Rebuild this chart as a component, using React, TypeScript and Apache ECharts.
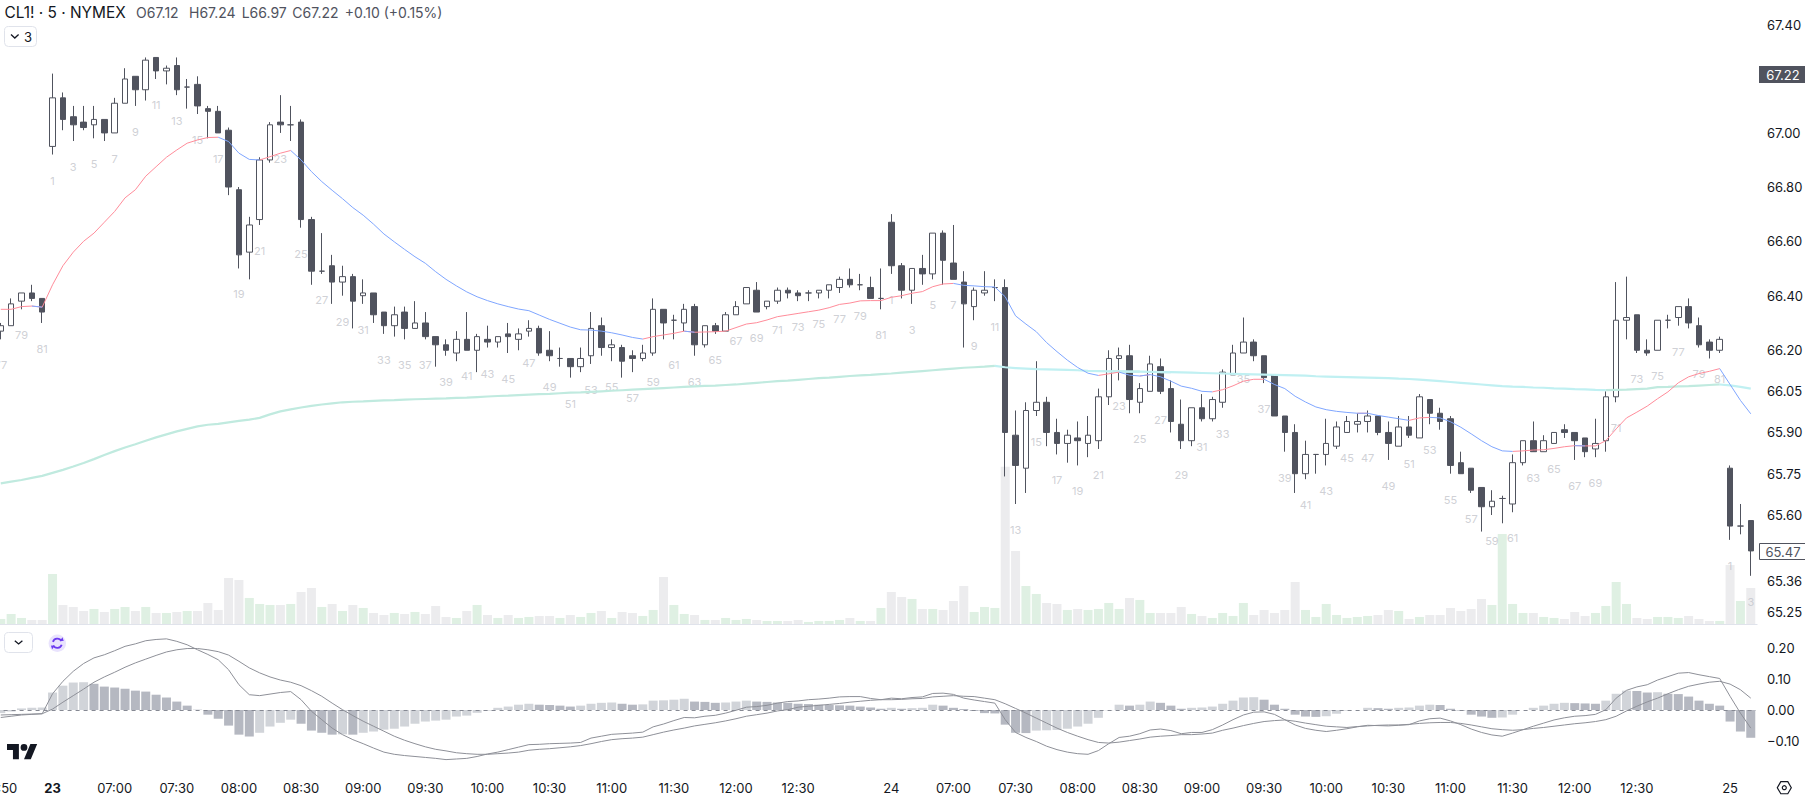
import React, { useEffect, useRef } from "react";
import * as echarts from "echarts";

const FONT = "Inter, 'Noto Sans', sans-serif";
const INK = "#131722";
const CANDLE = "#50535E";

// Session layout: bars 77-81 of the 22nd, 81 bars on the 23rd and 24th, 3 bars on the 25th.
function sessionBars(day: string, from: number, to: number) {
  const out: string[] = [];
  for (let k = from; k <= to; k++) {
    const mins = 6 * 60 + 30 + (k - 1) * 5;
    const t = `${String(Math.floor(mins / 60)).padStart(2, "0")}:${String(mins % 60).padStart(2, "0")}`;
    out.push(k === 1 ? day : t);
  }
  return out;
}
const categories = [
  ...sessionBars("22", 77, 81),
  ...sessionBars("23", 1, 81),
  ...sessionBars("24", 1, 81),
  ...sessionBars("25", 1, 3),
];
const barNumbers = [
  77, 78, 79, 80, 81,
  ...Array.from({ length: 81 }, (_, k) => k + 1),
  ...Array.from({ length: 81 }, (_, k) => k + 1),
  1, 2, 3,
];
const xTickIndices = [0, 5, 11, 17, 23, 29, 35, 41, 47, 53, 59, 65, 71, 77, 86, 92, 98, 104, 110, 116, 122, 128, 134, 140, 146, 152, 158, 167];

const priceTicks = [67.4, 67.0, 66.8, 66.6, 66.4, 66.2, 66.05, 65.9, 65.75, 65.6, 65.36, 65.25];
const macdTicks = [0.2, 0.1, 0, -0.1];

const opens = [
  66.27,66.29,66.38,66.41,66.39,66.95,67.13,67.06,67.04,67.03,
  67.05,67.00,67.11,67.21,67.16,67.28,67.23,67.25,67.17,67.18,
  67.09,67.08,67.01,66.79,66.56,66.68,66.90,67.04,67.03,67.04,
  66.68,66.49,66.51,66.45,66.47,66.40,66.41,66.34,66.29,66.34,
  66.28,66.30,66.25,66.22,66.19,66.24,66.20,66.24,66.23,66.26,
  66.24,66.27,66.28,66.20,66.17,66.17,66.14,66.18,66.29,66.21,
  66.21,66.18,66.17,66.19,66.35,66.31,66.30,66.36,66.22,66.29,
  66.27,66.33,66.37,66.42,66.36,66.38,66.42,66.41,66.41,66.41,
  66.42,66.43,66.46,66.44,66.43,66.39,66.67,66.51,66.42,66.50,
  66.48,66.63,66.52,66.45,66.36,66.41,66.43,66.43,65.89,65.77,
  65.98,66.01,65.90,65.86,65.88,65.86,65.87,66.03,66.17,66.18,
  66.01,66.05,66.14,66.06,65.93,65.87,65.99,65.95,66.01,66.11,
  66.19,66.23,66.18,66.11,65.96,65.90,65.75,65.82,65.82,65.85,
  65.90,65.93,65.94,65.96,65.90,65.85,65.92,65.88,66.02,65.97,
  65.95,65.79,65.77,65.70,65.63,65.66,65.64,65.79,65.87,65.83,
  65.86,65.91,65.90,65.88,65.84,65.87,66.03,66.31,66.33,66.20,
  66.20,66.31,66.32,66.36,66.29,66.23,66.20,65.77,65.56,65.58,
];
const closes = [
  66.29,66.37,66.41,66.39,66.34,67.13,67.05,67.03,67.02,67.05,
  67.00,67.11,67.20,67.16,67.27,67.23,67.24,67.16,67.17,67.10,
  67.08,67.00,66.80,66.55,66.66,66.90,67.03,67.03,67.03,66.68,
  66.49,66.49,66.45,66.47,66.38,66.41,66.33,66.29,66.33,66.28,
  66.30,66.25,66.22,66.20,66.24,66.20,66.25,66.23,66.25,66.25,
  66.26,66.28,66.19,66.18,66.17,66.14,66.17,66.28,66.21,66.22,
  66.16,66.17,66.19,66.35,66.30,66.31,66.35,66.22,66.29,66.27,
  66.33,66.36,66.43,66.34,66.38,66.42,66.41,66.40,66.41,66.42,
  66.44,66.46,66.44,66.44,66.39,66.39,66.51,66.42,66.50,66.48,
  66.63,66.53,66.46,66.37,66.42,66.42,66.43,65.90,65.78,65.98,
  66.01,65.90,65.86,65.89,65.87,65.89,66.03,66.17,66.18,66.02,
  66.06,66.15,66.05,65.94,65.87,65.99,65.95,66.02,66.12,66.19,
  66.23,66.18,66.10,65.96,65.90,65.75,65.82,65.82,65.86,65.92,
  65.94,65.94,65.96,65.90,65.86,65.92,65.89,66.03,65.97,65.94,
  65.78,65.75,65.69,65.63,65.65,65.66,65.79,65.87,65.83,65.87,
  65.90,65.90,65.87,65.83,65.86,66.03,66.31,66.32,66.20,66.19,
  66.31,66.31,66.36,66.30,66.22,66.20,66.24,65.56,65.56,65.47,
];
const lows = [
  66.24,66.29,66.35,66.38,66.30,66.92,67.01,66.97,67.01,66.98,
  66.97,67.00,67.11,67.10,67.12,67.20,67.18,67.14,67.09,67.07,
  66.98,67.00,66.77,66.50,66.46,66.66,66.89,67.00,66.97,66.65,
  66.44,66.48,66.37,66.40,66.28,66.37,66.30,66.26,66.25,66.24,
  66.28,66.24,66.14,66.18,66.16,66.20,66.12,66.21,66.21,66.19,
  66.20,66.25,66.18,66.16,66.14,66.10,66.12,66.15,66.18,66.16,
  66.10,66.12,66.16,66.18,66.24,66.24,66.27,66.18,66.21,66.26,
  66.27,66.33,66.37,66.34,66.35,66.37,66.39,66.38,66.38,66.39,
  66.39,66.41,66.43,66.42,66.39,66.35,66.48,66.39,66.37,66.44,
  66.46,66.44,66.46,66.21,66.31,66.40,66.38,65.74,65.64,65.68,
  65.96,65.85,65.82,65.79,65.78,65.81,65.84,66.00,66.09,65.97,
  65.97,66.05,66.04,65.90,65.84,65.85,65.94,65.94,65.99,66.11,
  66.19,66.16,66.08,65.96,65.83,65.68,65.73,65.75,65.78,65.84,
  65.90,65.90,65.90,65.89,65.80,65.85,65.88,65.88,65.93,65.91,
  65.75,65.75,65.68,65.54,65.60,65.57,65.61,65.78,65.83,65.83,
  65.86,65.88,65.80,65.81,65.81,65.83,66.01,66.24,66.19,66.18,
  66.20,66.28,66.29,66.28,66.21,66.17,66.19,65.51,65.53,65.38,
];
const highs = [
  66.30,66.39,66.41,66.44,66.39,67.22,67.15,67.10,67.10,67.10,
  67.05,67.13,67.24,67.21,67.28,67.28,67.25,67.28,67.20,67.21,
  67.10,67.10,67.02,66.80,66.69,66.91,67.04,67.14,67.10,67.05,
  66.69,66.63,66.55,66.51,66.48,66.46,66.41,66.34,66.36,66.36,
  66.38,66.34,66.25,66.24,66.27,66.34,66.26,66.29,66.25,66.30,
  66.28,66.31,66.29,66.27,66.21,66.17,66.21,66.34,66.32,66.24,
  66.22,66.20,66.22,66.39,66.35,66.33,66.37,66.37,66.29,66.30,
  66.34,66.38,66.43,66.45,66.38,66.43,66.43,66.42,66.42,66.42,
  66.44,66.47,66.50,66.48,66.47,66.50,66.70,66.52,66.50,66.55,
  66.63,66.64,66.66,66.49,66.43,66.49,66.46,66.46,65.98,66.01,
  66.16,66.03,65.95,65.91,65.94,65.96,66.06,66.20,66.21,66.22,
  66.08,66.18,66.17,66.09,66.02,65.99,66.04,66.03,66.13,66.22,
  66.32,66.24,66.18,66.11,65.96,65.93,65.87,65.82,65.95,65.94,
  65.96,65.97,65.98,65.96,65.94,65.96,65.96,66.04,66.02,65.99,
  65.96,65.83,65.77,65.70,65.69,65.67,65.82,65.87,65.94,65.89,
  65.90,65.93,65.90,65.88,65.95,66.05,66.45,66.47,66.33,66.24,
  66.31,66.33,66.36,66.39,66.32,66.24,66.25,65.78,65.64,65.58,
];
const volumes = [
  16,31,19,13,13,151,58,52,40,46,
  37,46,52,40,52,34,34,37,40,40,
  64,43,139,133,79,61,58,58,61,97,
  109,52,61,40,58,49,34,28,34,31,
  37,31,55,22,19,40,58,28,19,28,
  19,22,25,25,19,28,22,34,40,19,
  37,34,25,43,142,58,31,28,13,13,
  19,13,16,13,10,10,10,13,7,10,
  10,13,19,10,10,49,97,82,76,46,
  46,43,70,115,37,52,49,473,220,115,
  91,64,61,43,46,43,46,64,46,79,
  73,34,34,34,52,31,25,19,34,25,
  64,28,43,34,43,127,43,22,61,28,
  19,22,25,28,43,40,16,22,28,28,
  49,40,46,76,58,271,61,34,34,22,
  19,16,37,25,34,55,127,61,19,16,
  22,22,19,25,16,10,10,178,70,109,
];
const fastEma = [
  66.35,66.35,66.36,66.362,66.358,66.44,66.51,66.56,66.60,66.63,
  66.67,66.71,66.76,66.79,66.84,66.875,66.91,66.937,66.962,66.974,
  66.983,66.984,66.968,66.925,66.902,66.90,66.912,66.925,66.935,66.90,
  66.857,66.82,66.788,66.757,66.724,66.696,66.663,66.627,66.598,66.57,
  66.543,66.519,66.488,66.46,66.436,66.414,66.396,66.382,66.37,66.36,
  66.351,66.345,66.329,66.313,66.299,66.285,66.275,66.274,66.27,66.264,
  66.256,66.247,66.241,66.25,66.256,66.262,66.27,66.266,66.267,66.268,
  66.27,66.283,66.296,66.301,66.311,66.323,66.329,66.335,66.341,66.347,
  66.356,66.368,66.373,66.381,66.382,66.382,66.394,66.40,66.409,66.415,
  66.433,66.443,66.445,66.438,66.436,66.433,66.432,66.396,66.326,66.296,
  66.268,66.228,66.195,66.164,66.137,66.116,66.108,66.114,66.12,66.109,
  66.106,66.111,66.103,66.087,66.069,66.061,66.05,66.048,66.056,66.07,
  66.087,66.094,66.094,66.075,66.06,66.032,66.011,65.993,65.983,65.977,
  65.973,65.970,65.970,65.962,65.956,65.950,65.944,65.953,65.955,65.953,
  65.939,65.919,65.895,65.870,65.848,65.833,65.831,65.833,65.836,65.837,
  65.842,65.848,65.852,65.851,65.851,65.870,65.913,65.953,65.974,65.996,
  66.023,66.048,66.081,66.103,66.115,66.123,66.133,66.075,66.017,65.968,
];
const slowEma = [
  65.715,65.721,65.727,65.735,65.742,65.753,65.764,65.776,65.789,65.803,
  65.818,65.832,65.845,65.857,65.870,65.882,65.893,65.904,65.913,65.922,
  65.928,65.931,65.937,65.942,65.947,65.953,65.966,65.977,65.984,65.991,
  65.997,66.002,66.006,66.010,66.012,66.013,66.015,66.017,66.018,66.020,
  66.021,66.022,66.023,66.024,66.026,66.027,66.029,66.031,66.033,66.034,
  66.036,66.038,66.040,66.041,66.043,66.045,66.046,66.048,66.050,66.052,
  66.054,66.056,66.058,66.060,66.062,66.064,66.066,66.068,66.070,66.071,
  66.073,66.075,66.078,66.081,66.084,66.087,66.089,66.092,66.095,66.098,
  66.100,66.103,66.106,66.108,66.110,66.113,66.115,66.118,66.121,66.124,
  66.127,66.130,66.133,66.136,66.138,66.140,66.143,66.138,66.135,66.133,
  66.131,66.130,66.129,66.128,66.127,66.125,66.124,66.123,66.123,66.122,
  66.122,66.121,66.120,66.120,66.119,66.118,66.117,66.116,66.115,66.114,
  66.113,66.112,66.111,66.110,66.109,66.108,66.107,66.105,66.104,66.103,
  66.102,66.101,66.100,66.099,66.098,66.096,66.095,66.093,66.090,66.087,
  66.084,66.081,66.078,66.075,66.072,66.069,66.067,66.066,66.064,66.063,
  66.061,66.060,66.058,66.057,66.055,66.054,66.055,66.056,66.058,66.060,
  66.065,66.066,66.068,66.069,66.071,66.073,66.075,66.072,66.066,66.060,
];
const macdHist = [
  -.010,-.005,.005,.007,.008,.056,.078,.088,.089,.084,
  .075,.072,.068,.062,.059,.049,.040,.027,.014,.001,
  -.015,-.028,-.050,-.079,-.085,-.073,-.053,-.041,-.031,-.044,
  -.066,-.073,-.079,-.078,-.079,-.073,-.069,-.063,-.060,-.053,
  -.044,-.037,-.034,-.031,-.021,-.018,-.009,-.002,.007,.011,
  .017,.020,.017,.016,.014,.011,.014,.020,.023,.024,
  .020,.017,.018,.030,.031,.033,.036,.027,.026,.023,
  .024,.027,.030,.027,.026,.024,.023,.020,.019,.017,
  .016,.015,.014,.011,.008,.004,.007,.004,.006,.007,
  .017,.014,.007,.003,-.003,-.010,-.011,-.047,-.073,-.074,
  -.066,-.065,-.064,-.060,-.053,-.044,-.025,-.001,.017,.014,
  .017,.027,.023,.014,.004,.007,.008,.011,.020,.030,
  .040,.041,.033,.017,.004,-.015,-.021,-.022,-.020,-.012,
  -.002,.000,.007,.006,.004,.007,.008,.014,.017,.016,
  .004,-.002,-.015,-.021,-.025,-.024,-.015,.000,.007,.014,
  .020,.023,.022,.021,.020,.030,.052,.062,.061,.056,
  .057,.052,.051,.043,.030,.020,.014,-.037,-.069,-.089,
];
const macdLine = [
  -.024,-.020,-.016,-.014,-.012,.052,.092,.124,.149,.167,
  .177,.190,.204,.212,.222,.226,.228,.220,.209,.193,
  .178,.161,.129,.081,.049,.046,.051,.056,.059,.033,
  -.004,-.031,-.058,-.079,-.095,-.108,-.122,-.135,-.142,-.146,
  -.149,-.152,-.155,-.159,-.157,-.155,-.149,-.141,-.135,-.127,
  -.119,-.111,-.110,-.108,-.107,-.106,-.104,-.090,-.084,-.078,
  -.076,-.074,-.071,-.054,-.045,-.034,-.024,-.025,-.020,-.017,
  -.010,-.001,.009,.011,.015,.022,.027,.029,.033,.035,
  .038,.042,.043,.043,.037,.033,.038,.036,.040,.042,
  .053,.054,.050,.038,.032,.027,.022,-.031,-.072,-.088,
  -.101,-.116,-.127,-.135,-.140,-.142,-.130,-.108,-.088,-.084,
  -.076,-.064,-.061,-.066,-.076,-.072,-.072,-.063,-.048,-.031,
  -.016,-.007,-.006,-.014,-.031,-.048,-.059,-.065,-.069,-.065,
  -.060,-.054,-.049,-.050,-.051,-.049,-.047,-.035,-.028,-.026,
  -.035,-.047,-.061,-.072,-.080,-.084,-.074,-.063,-.052,-.042,
  -.032,-.025,-.020,-.018,-.014,.001,.038,.063,.074,.081,
  .096,.107,.118,.120,.113,.107,.101,.044,-.010,-.058,
];
const macdSignal = [
  -.016,-.015,-.014,-.013,-.012,.003,.025,.046,.067,.089,
  .106,.121,.137,.151,.163,.175,.186,.193,.197,.197,
  .193,.187,.176,.156,.135,.119,.106,.096,.089,.078,
  .062,.044,.022,.001,-.018,-.036,-.052,-.068,-.084,-.097,
  -.108,-.118,-.126,-.131,-.137,-.140,-.142,-.142,-.140,-.138,
  -.135,-.129,-.126,-.124,-.121,-.118,-.114,-.108,-.101,-.095,
  -.092,-.090,-.087,-.079,-.071,-.064,-.058,-.051,-.046,-.041,
  -.035,-.028,-.020,-.015,-.010,-.003,.001,.009,.012,.015,
  .018,.021,.025,.028,.031,.033,.033,.034,.036,.037,
  .042,.044,.046,.044,.043,.038,.033,.020,.005,-.010,
  -.026,-.042,-.058,-.072,-.084,-.095,-.104,-.106,-.103,-.098,
  -.093,-.087,-.084,-.082,-.079,-.079,-.077,-.074,-.065,-.058,
  -.050,-.043,-.037,-.034,-.032,-.036,-.042,-.047,-.052,-.054,
  -.056,-.053,-.051,-.049,-.048,-.048,-.046,-.043,-.041,-.040,
  -.040,-.043,-.048,-.054,-.060,-.063,-.065,-.063,-.059,-.056,
  -.052,-.048,-.044,-.041,-.037,-.031,-.020,-.003,.012,.026,
  .038,.052,.065,.076,.083,.089,.092,.083,.065,.038,
];

const headerTitle = "CL1! · 5 · NYMEX";
const headerValues = ["O67.12", "H67.24", "L66.97", "C67.22", "+0.10 (+0.15%)"];
const headerValueLefts = [136, 189, 241.7, 292.3, 344.7];

// Split a line into its rising and falling runs, as the two-colour moving average draws them.
function slopeRuns(values: number[]) {
  const rising: (number | null)[] = values.map(() => null);
  const falling: (number | null)[] = values.map(() => null);
  for (let i = 0; i + 1 < values.length; i++) {
    const run = values[i + 1] >= values[i] ? rising : falling;
    run[i] = values[i];
    run[i + 1] = values[i + 1];
  }
  return { rising, falling };
}

echarts.graphic.registerShape(
  "tvlogo",
  echarts.graphic.extendPath("M14 22H7V11H0V4h14v18zM28 22h-8l7.5-18h8L28 22zM20 12a4 4 0 1 0 0-8 4 4 0 0 0 0 8z", {})
);

function uiGraphics() {
  const text = (x: number, y: number, t: string, size: number, fill: string, align = "left", weight = 400) => ({
    type: "text", x, y, z: 100,
    style: { text: t, fontFamily: FONT, fontSize: size, fontWeight: weight, fill, align, verticalAlign: "middle" },
  });
  const gx = 1784.3, gy = 787.7, gr = 7;
  const hex = [0, 60, 120, 180, 240, 300].map((a) => [gx + gr * Math.cos((a * Math.PI) / 180), gy + gr * Math.sin((a * Math.PI) / 180)]);
  const cx = 57.3, cy = 643.3;
  return [
    { type: "line", z: 50, shape: { x1: 0, y1: 624.5, x2: 1757.5, y2: 624.5 }, style: { stroke: "#E0E3EB", lineWidth: 1 } },
    text(4.5, 12, headerTitle, 15.4, INK),
    ...headerValues.map((v, i) => text(headerValueLefts[i], 12, v, 14, CANDLE)),
    { type: "rect", z: 100, shape: { x: 4.5, y: 26.5, width: 32, height: 20, r: 4 }, style: { fill: "#fff", stroke: "#E0E3EB", lineWidth: 1 } },
    { type: "polyline", z: 101, shape: { points: [[11, 34.5], [14.8, 38], [18.6, 34.5]] }, style: { stroke: INK, lineWidth: 1.3, fill: "none" } },
    text(28, 37, "3", 13, INK, "center"),
    { type: "rect", z: 100, shape: { x: 4.5, y: 632.5, width: 28, height: 20, r: 4 }, style: { fill: "#fff", stroke: "#E0E3EB", lineWidth: 1 } },
    { type: "polyline", z: 101, shape: { points: [[14.8, 640.7], [18.6, 644], [22.4, 640.7]] }, style: { stroke: INK, lineWidth: 1.3, fill: "none" } },
    { type: "circle", z: 100, shape: { cx, cy, r: 8.7 }, style: { fill: "#E9E3FD" } },
    { type: "arc", z: 101, shape: { cx, cy, r: 4.6, startAngle: Math.PI * 1.1, endAngle: Math.PI * 1.85 }, style: { stroke: "#6D3BF0", lineWidth: 1.8, fill: "none" } },
    { type: "arc", z: 101, shape: { cx, cy, r: 4.6, startAngle: Math.PI * 0.1, endAngle: Math.PI * 0.85 }, style: { stroke: "#6D3BF0", lineWidth: 1.8, fill: "none" } },
    { type: "polygon", z: 101, shape: { points: [[cx + 2.6, cy - 2.6], [cx + 6.4, cy - 2.2], [cx + 5.2, cy - 6]] }, style: { fill: "#6D3BF0" } },
    { type: "polygon", z: 101, shape: { points: [[cx - 2.6, cy + 2.6], [cx - 6.4, cy + 2.2], [cx - 5.2, cy + 6]] }, style: { fill: "#6D3BF0" } },
    { type: "tvlogo", z: 100, x: 7, y: 740.6, scaleX: 0.85, scaleY: 0.85, style: { fill: INK } },
    { type: "rect", z: 100, shape: { x: 1759, y: 66, width: 46, height: 17 }, style: { fill: CANDLE } },
    text(1783, 74.8, "67.22", 13, "#fff", "center"),
    { type: "rect", z: 100, shape: { x: 1759.5, y: 543.5, width: 46, height: 16 }, style: { fill: "#fff", stroke: CANDLE, lineWidth: 1 } },
    text(1783, 551.8, "65.47", 13, CANDLE, "center"),
    { type: "polygon", z: 100, shape: { points: hex }, style: { stroke: INK, lineWidth: 1.2, fill: "none" } },
    { type: "circle", z: 100, shape: { cx: gx, cy: gy, r: 2 }, style: { stroke: INK, lineWidth: 1.2, fill: "none" } },
  ];
}

function buildOption() {
  const left = -4.4;
  const width = 1760.35;
  const fast = slopeRuns(fastEma);
  const slow = slopeRuns(slowEma);
  const hiddenAxis = (gridIndex: number) => ({ type: "category", gridIndex, data: categories, show: false, boundaryGap: true });
  return {
    animation: false,
    backgroundColor: "#ffffff",
    textStyle: { fontFamily: FONT },
    grid: [
      { left, width, top: 0, height: 624.3, outerBoundsMode: "none" },
      { left, width, top: 0, height: 624.3, outerBoundsMode: "none" },
      { left, width, top: 625, height: 147, outerBoundsMode: "none" },
    ],
    xAxis: [
      hiddenAxis(0),
      hiddenAxis(1),
      {
        type: "category",
        gridIndex: 2,
        data: categories,
        boundaryGap: true,
        axisLine: { show: false },
        axisTick: { show: false },
        splitLine: { show: false },
        axisLabel: {
          margin: 9,
          fontFamily: FONT,
          fontSize: 13,
          color: INK,
          hideOverlap: false,
          interval: (i: number) => xTickIndices.includes(i),
          formatter: (v: string) => (v === "23" ? `{b|${v}}` : v),
          rich: { b: { fontFamily: FONT, fontSize: 13, fontWeight: 700, color: INK } },
        },
      },
    ],
    yAxis: [
      {
        type: "log",
        gridIndex: 0,
        position: "right",
        min: 65.205,
        max: 67.494,
        axisLine: { show: false },
        axisTick: { show: false },
        splitLine: { show: false },
        axisLabel: {
          margin: 11,
          fontFamily: FONT,
          fontSize: 13,
          color: INK,
          align: "left",
          customValues: priceTicks,
          formatter: (v: number) => (v < 10 ? Math.pow(10, v) : v).toFixed(2),
        },
      },
      { type: "value", gridIndex: 1, min: 0, max: 1873, show: false },
      {
        type: "value",
        gridIndex: 2,
        position: "right",
        min: -0.1987,
        max: 0.2724,
        axisLine: { show: false },
        axisTick: { show: false },
        splitLine: { show: false },
        axisLabel: {
          margin: 11,
          fontFamily: FONT,
          fontSize: 13,
          color: INK,
          align: "left",
          customValues: macdTicks,
          formatter: (v: number) => (v < 0 ? "\u2212" : "") + Math.abs(v).toFixed(2),
        },
      },
    ],
    series: [
      {
        type: "bar",
        name: "Volume",
        xAxisIndex: 1,
        yAxisIndex: 1,
        barWidth: 9,
        data: volumes.map((v, i) => ({
          value: v,
          itemStyle: { color: closes[i] >= opens[i] ? "#DFF0E3" : "#ECECEE" },
        })),
      },
      { type: "line", name: "Slow EMA rising", xAxisIndex: 0, yAxisIndex: 0, symbol: "none", data: slow.rising, lineStyle: { color: "#C0EADF", width: 2.2 } },
      { type: "line", name: "Slow EMA falling", xAxisIndex: 0, yAxisIndex: 0, symbol: "none", data: slow.falling, lineStyle: { color: "#C0F0F2", width: 2.2 } },
      { type: "line", name: "Fast EMA rising", xAxisIndex: 0, yAxisIndex: 0, symbol: "none", data: fast.rising, lineStyle: { color: "#FF8C9A", width: 1 } },
      { type: "line", name: "Fast EMA falling", xAxisIndex: 0, yAxisIndex: 0, symbol: "none", data: fast.falling, lineStyle: { color: "#7FA6FF", width: 1 } },
      {
        type: "candlestick",
        name: "CL1!",
        xAxisIndex: 0,
        yAxisIndex: 0,
        barWidth: 6,
        data: opens.map((o, i) => [o, closes[i], lows[i], highs[i]]),
        itemStyle: {
          color: "#ffffff",
          color0: CANDLE,
          borderColor: CANDLE,
          borderColor0: CANDLE,
          borderWidth: 1,
        },
      },
      {
        type: "scatter",
        name: "Bar count",
        xAxisIndex: 0,
        yAxisIndex: 0,
        symbolSize: 1,
        itemStyle: { color: "transparent" },
        silent: true,
        data: barNumbers
          .map((n, i) => ({ n, i }))
          .filter((b) => b.n % 2 === 1)
          .map((b) => ({
            value: [b.i, lows[b.i]],
            name: String(b.n),
          })),
        label: {
          show: true,
          position: "inside",
          offset: [0, 26],
          formatter: (p: any) => p.name,
          fontFamily: FONT,
          fontSize: 11,
          color: "#C3C5CB",
        },
      },
      {
        type: "bar",
        name: "MACD histogram",
        xAxisIndex: 2,
        yAxisIndex: 2,
        barWidth: 9,
        data: macdHist.map((v, i) => ({
          value: v,
          itemStyle: { color: i > 0 && v < macdHist[i - 1] ? "#B5B8C1" : "#D1D4D9" },
        })),
        markLine: {
          silent: true,
          symbol: "none",
          label: { show: false },
          lineStyle: { color: "#868993", type: [4, 4], width: 1 },
          data: [{ yAxis: 0 }],
        },
      },
      { type: "line", name: "MACD", xAxisIndex: 2, yAxisIndex: 2, symbol: "none", data: macdLine, lineStyle: { color: "#8E9098", width: 1 } },
      { type: "line", name: "Signal", xAxisIndex: 2, yAxisIndex: 2, symbol: "none", data: macdSignal, lineStyle: { color: "#8E9098", width: 1 } },
    ],
    graphic: uiGraphics(),
  };
}

export default function App() {
  const ref = useRef<HTMLDivElement>(null);
  useEffect(() => {
    document.body.style.margin = "0";
    const chart = echarts.init(ref.current!, undefined, { renderer: "svg" });
    chart.setOption(buildOption() as any);
    return () => chart.dispose();
  }, []);
  return <div ref={ref} style={{ position: "absolute", left: 0, top: 0, width: 1805, height: 799, overflow: "hidden" }} />;
}
